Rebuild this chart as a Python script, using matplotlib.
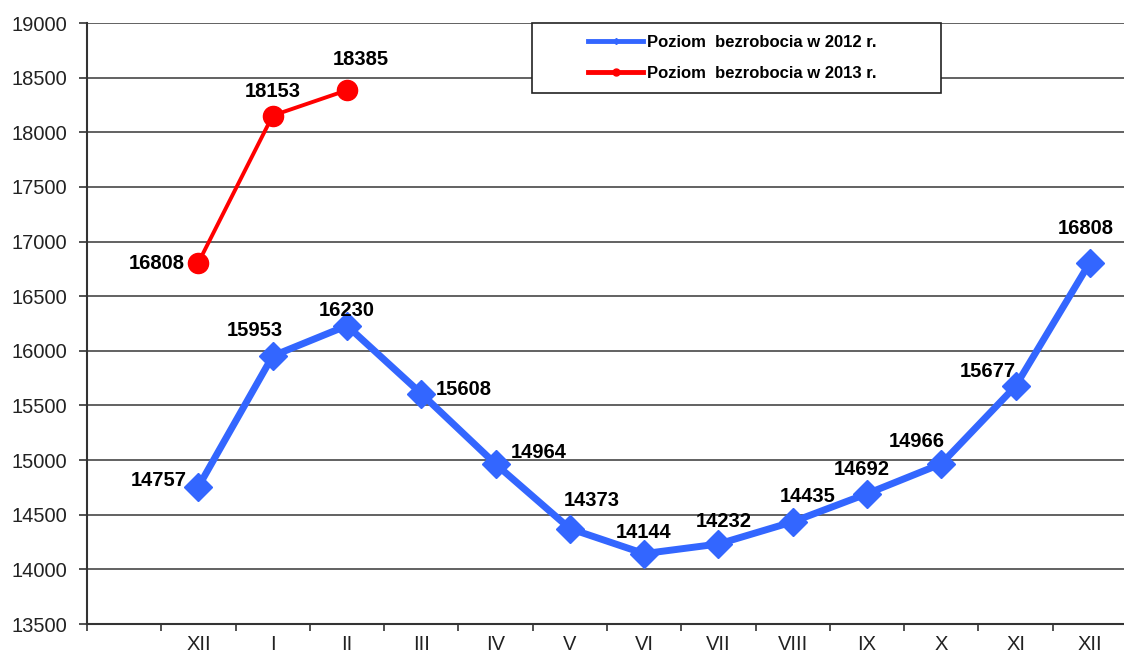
import matplotlib.pyplot as plt
from matplotlib.lines import Line2D
from matplotlib.patches import Rectangle

months = ['', 'XII', 'I', 'II', 'III', 'IV', 'V', 'VI', 'VII', 'VIII', 'IX', 'X', 'XI', 'XII']
values_2012 = [14757, 15953, 16230, 15608, 14964, 14373, 14144, 14232, 14435, 14692, 14966, 15677, 16808]
values_2013 = [16808, 18153, 18385]

# label offsets in pixels (dx, dy, ha)
off_2012 = [(-12, 6, 'right'), (-18, 25, 'center'), (0, 15, 'center'), (14, 4, 'left'),
            (15, 12, 'left'), (22, 28, 'center'), (-1, 21, 'center'), (5, 23, 'center'),
            (15, 25, 'center'), (-5, 24, 'center'), (-25, 22, 'center'), (-28, 15, 'center'),
            (-4, 34, 'center')]
off_2013 = [(-14, -1, 'right'), (0, 24, 'center'), (14, 31, 'center')]

plt.rcParams['font.family'] = ['Liberation Sans', 'DejaVu Sans']

fig = plt.figure(figsize=(11.24, 6.57), dpi=100)
ax = fig.add_axes([87 / 1124, 33 / 657, 1040 / 1124, 601 / 657])

x12 = list(range(1, 1 + len(values_2012)))
x13 = list(range(1, 1 + len(values_2013)))
ax.plot(x12, values_2012, color='#3366FF', lw=5, marker='D', ms=14, zorder=3)
ax.plot(x13, values_2013, color='#FF0000', lw=2.8, marker='o', ms=14.5, zorder=3)

for x, v, (dx, dy, ha) in zip(x12, values_2012, off_2012):
    ax.annotate(str(v), (x, v), xytext=(dx, dy), textcoords='offset pixels',
                ha=ha, va='center', fontsize=14.5, fontweight='bold', zorder=4)
for x, v, (dx, dy, ha) in zip(x13, values_2013, off_2013):
    ax.annotate(str(v), (x, v), xytext=(dx, dy), textcoords='offset pixels',
                ha=ha, va='center', fontsize=14.5, fontweight='bold', zorder=4)

ax.set_xlim(-0.5, 13.5)
ax.set_ylim(13500, 19000)
ax.set_yticks(range(13500, 19001, 500))
ax.set_xticks(range(len(months)))
ax.set_xticklabels(months)
ax.set_xticks([i - 0.5 for i in range(len(months) + 1)], minor=True)
ax.tick_params(axis='x', which='major', length=0, pad=8, labelsize=14.5, colors='#222222')
ax.tick_params(axis='x', which='minor', length=5, width=1.2, color='#333333')
ax.tick_params(axis='y', length=6, width=1.2, color='#333333', labelsize=14.5,
               labelcolor='#222222', pad=8)
ax.yaxis.grid(True, color='#555555', lw=1.3)
ax.set_axisbelow(True)
for s in ['top', 'right']:
    ax.spines[s].set_visible(False)
for s in ['left', 'bottom']:
    ax.spines[s].set_color('#333333')
    ax.spines[s].set_linewidth(1.5)

# legend box (wider than the entries, as in the original)
box = Rectangle((532 / 1124, (657 - 93) / 657), 409 / 1124, 70 / 657, transform=fig.transFigure,
                facecolor='white', edgecolor='#222222', lw=1.2, zorder=5)
fig.patches.append(box)

handles = [Line2D([], [], color='#3366FF', lw=3.5, marker='D', ms=3),
           Line2D([], [], color='#FF0000', lw=3.5, marker='o', ms=5)]
leg = fig.legend(handles, ['Poziom  bezrobocia w 2012 r.', 'Poziom  bezrobocia w 2013 r.'],
                 loc='center left', bbox_to_anchor=(588 / 1124, (657 - 58) / 657),
                 prop={'weight': 'bold', 'size': 12}, frameon=False,
                 handlelength=3.3, borderpad=0, labelspacing=0.95,
                 handletextpad=0.25, borderaxespad=0)
leg.set_zorder(6)

fig.savefig('out.png', dpi=100)
